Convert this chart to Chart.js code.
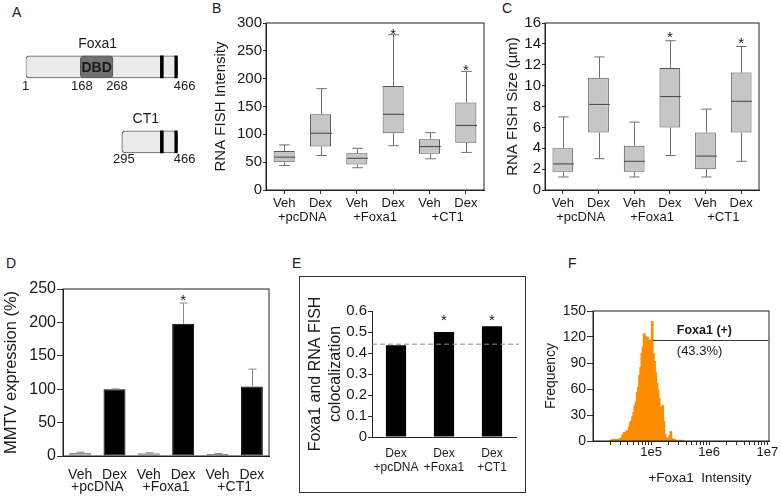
<!DOCTYPE html>
<html><head><meta charset="utf-8">
<script src="https://cdn.jsdelivr.net/npm/chart.js@4.4.1/dist/chart.umd.min.js"></script>
<style>
html,body{margin:0;padding:0;background:#fff;}
body{width:782px;height:503px;position:relative;overflow:hidden;font-family:"Liberation Sans",Arial,sans-serif;color:#1a1a1a;}
canvas{position:absolute;}
.lab{position:absolute;font-size:14px;line-height:14px;}
#frameE{position:absolute;left:299px;top:276px;width:227px;height:217px;box-sizing:border-box;border:1px solid #333;}
</style></head><body>
<div class="lab" style="left:12px;top:5px">A</div>
<div class="lab" style="left:212px;top:1px">B</div>
<div class="lab" style="left:502px;top:1px">C</div>
<div class="lab" style="left:6px;top:256px">D</div>
<div class="lab" style="left:292px;top:256px">E</div>
<div class="lab" style="left:568px;top:256px">F</div>
<div id="frameE"></div>
<canvas id="cA" width="195" height="220" style="left:0;top:0"></canvas>
<canvas id="cB" width="295" height="225" style="left:195px;top:0"></canvas>
<canvas id="cC" width="292" height="225" style="left:490px;top:0"></canvas>
<canvas id="cD" width="290" height="263" style="left:0;top:240px"></canvas>
<canvas id="cE" width="225" height="215" style="left:300px;top:277px"></canvas>
<canvas id="cF" width="252" height="223" style="left:530px;top:280px"></canvas>
<script>
// ---------------- DATA ----------------
// Panel A: protein constructs (amino-acid positions)
const aConstructs = ['Foxa1', 'CT1'];
const aStart = [1, 295];
const aEnd = [466, 466];
const aDbd = [[168, 268], null];
const aBand1 = [[413, 422], [413, 422]];
const aBand2 = [[457, 466], [457, 466]];
const aPosLabels = [[1, 168, 268, 466], [295, 466]];

// Panels B, C: box plots
const boxCats = ['Veh', 'Dex', 'Veh', 'Dex', 'Veh', 'Dex'];
const boxGroups = ['+pcDNA', '+Foxa1', '+CT1'];
const bMin = [44, 62, 40, 79.5, 56, 67.5];
const bQ1  = [50, 78, 46, 102, 65, 85];
const bMed = [59, 102, 57, 136, 78, 116];
const bQ3  = [70, 136, 66, 187, 91, 157];
const bMax = [81, 182, 75, 279, 103, 213];
const bStars = [3, 5];
const bTicks = {min: 0, max: 300, step: 50};

const cMin = [1.25, 3.0, 1.25, 3.3, 1.25, 2.75];
const cQ1  = [1.75, 5.5, 1.75, 6.0, 2.0, 5.5];
const cMed = [2.5, 8.2, 2.75, 8.95, 3.25, 8.5];
const cQ3  = [4.0, 10.75, 4.25, 11.7, 5.5, 11.25];
const cMax = [7.0, 12.75, 6.5, 14.3, 7.75, 13.75];
const cStars = [3, 5];
const cTicks = {min: 0, max: 16, step: 2};

// Panel D: MMTV expression
const dCats = ['Veh', 'Dex', 'Veh', 'Dex', 'Veh', 'Dex'];
const dGroups = ['+pcDNA', '+Foxa1', '+CT1'];
const dMean = [4.5, 100, 4, 198, 3, 104];
const dErr  = [1.2, 0.4, 0.8, 31, 0.8, 26];
const dStars = [3];

// Panel E: colocalization
const eCats = [['Dex', '+pcDNA'], ['Dex', '+Foxa1'], ['Dex', '+CT1']];
const eValues = [0.437, 0.50, 0.527];
const eRef = 0.442;
const eStars = [1, 2];
const eStarLevel = 0.535;

// Panel F: histogram (log10 bin centres, counts)
const fLogBins = [4.30,4.32,4.34,4.36,4.38,4.40,4.42,4.44,4.46,4.48,4.50,4.52,4.54,4.56,4.58,4.60,
  4.62,4.64,4.66,4.68,4.70,4.72,4.74,4.76,4.78,4.80,4.82,4.84,4.86,4.88,4.90,4.92,4.94,4.96,4.98,
  5.00,5.02,5.04,5.06,5.08,5.10,5.12,5.14,5.16,5.18,5.20,5.22,5.24,5.26,5.28,5.30,5.32,5.34,5.36,
  5.38,5.40,5.42,5.44,5.46,5.48,5.50,5.52,5.54,5.56];
const fFreq = [1,1,2,1,2,2,1,2,3,2,5,8,10,9,12,11,
  16,21,23,28,33,41,45,56,62,76,85,101,109,124,121,119,120,116,113,
  117,138,101,92,79,67,59,49,39,37,41,23,8,4,2,3,6,11,3,
  1,2,1,1,0,1,1,0,1,0];
const fGateX = [1.07e5, 1.04e7];
const fGateY = 116;
const fGateLabel = 'Foxa1 (+)';
const fGatePct = '(43.3%)';
const fTickValues = [2e4,3e4,4e4,5e4,6e4,7e4,8e4,9e4,1e5,2e5,3e5,4e5,5e5,6e5,7e5,8e5,9e5,
  1e6,2e6,3e6,4e6,5e6,6e6,7e6,8e6,9e6,1e7];
const fMajorLabels = {100000: '1e5', 1000000: '1e6', 10000000: '1e7'};

// ---------------- SETUP ----------------
const FONT = '"Liberation Sans", Arial, sans-serif';
const TXT = '#1a1a1a';
Chart.defaults.font.family = FONT;
Chart.defaults.color = TXT;
Chart.defaults.animation = false;
Chart.defaults.responsive = false;
Chart.defaults.plugins.legend.display = false;
Chart.defaults.plugins.tooltip.enabled = false;

const framePlugin = {id: 'frame', afterDraw(chart) {
  const {ctx, chartArea: a} = chart;
  ctx.save(); ctx.strokeStyle = '#222'; ctx.lineWidth = 1;
  ctx.strokeRect(a.left, a.top, a.right - a.left, a.bottom - a.top);
  ctx.restore();
}};

function groupLabels(groups, dy, size) {
  return {id: 'groups', afterDraw(chart) {
    const xs = chart.scales.x, ctx = chart.ctx;
    ctx.save(); ctx.font = size + 'px ' + FONT; ctx.fillStyle = TXT;
    ctx.textAlign = 'center'; ctx.textBaseline = 'middle';
    groups.forEach((g, i) => {
      const x = (xs.getPixelForValue(2 * i) + xs.getPixelForValue(2 * i + 1)) / 2;
      ctx.fillText(g, x, chart.chartArea.bottom + dy);
    });
    ctx.restore();
  }};
}

function stars(indices, levelFn, dy) {
  return {id: 'stars', afterDatasetsDraw(chart) {
    const xs = chart.scales.x, ys = chart.scales.y, ctx = chart.ctx;
    ctx.save(); ctx.font = '15px ' + FONT; ctx.fillStyle = TXT;
    ctx.textAlign = 'center'; ctx.textBaseline = 'alphabetic';
    indices.forEach(i => {
      ctx.fillText('*', xs.getPixelForValue(i), ys.getPixelForValue(levelFn(i)) + dy);
    });
    ctx.restore();
  }};
}

function whiskers(mins, meds, maxs, q1s, q3s) {
  return {id: 'whiskers', afterDatasetsDraw(chart) {
    const xs = chart.scales.x, ys = chart.scales.y, ctx = chart.ctx;
    const meta = chart.getDatasetMeta(0);
    ctx.save(); ctx.lineWidth = 1;
    mins.forEach((mn, i) => {
      const x = Math.round(xs.getPixelForValue(i)) + 0.5;
      const hw = meta.data[i].width / 2;
      const cap = hw * 0.5;
      const yMin = ys.getPixelForValue(mn), yMax = ys.getPixelForValue(maxs[i]);
      const yQ1 = ys.getPixelForValue(q1s[i]), yQ3 = ys.getPixelForValue(q3s[i]);
      const yMed = ys.getPixelForValue(meds[i]);
      ctx.strokeStyle = '#707070';
      ctx.beginPath();
      ctx.moveTo(x, yQ3); ctx.lineTo(x, yMax);
      ctx.moveTo(x - cap, yMax); ctx.lineTo(x + cap, yMax);
      ctx.moveTo(x, yQ1); ctx.lineTo(x, yMin);
      ctx.moveTo(x - cap, yMin); ctx.lineTo(x + cap, yMin);
      ctx.stroke();
      ctx.strokeStyle = '#444';
      ctx.beginPath();
      ctx.moveTo(x - hw, yMed); ctx.lineTo(x + hw, yMed);
      ctx.stroke();
    });
    ctx.restore();
  }};
}

// ---------------- PANEL A ----------------
(function () {
  const W = 195, H = 220;
  const labelsPlugin = {id: 'aLabels', afterDatasetsDraw(chart) {
    const xs = chart.scales.x, ctx = chart.ctx;
    const base = chart.getDatasetMeta(0);
    const nudges = [[0, 1.5, 4, 7], [2, 7]];
    ctx.save(); ctx.fillStyle = TXT; ctx.textAlign = 'center'; ctx.textBaseline = 'middle';
    aConstructs.forEach((name, i) => {
      const bar = base.data[i];
      const top = bar.y - bar.height / 2, bottom = bar.y + bar.height / 2;
      ctx.font = '14px ' + FONT;
      const cx = (xs.getPixelForValue(aStart[i]) + xs.getPixelForValue(aEnd[i])) / 2 - 4;
      ctx.fillText(name, cx, top - 12);
      ctx.font = '13px ' + FONT;
      aPosLabels[i].forEach((v, j) => {
        ctx.fillText(String(v), xs.getPixelForValue(v) + nudges[i][j], bottom + (i === 0 ? 8.5 : 7));
      });
      if (aDbd[i]) {
        ctx.font = 'bold 14px ' + FONT;
        ctx.fillText('DBD', (xs.getPixelForValue(aDbd[i][0]) + xs.getPixelForValue(aDbd[i][1])) / 2, bar.y + 1);
      }
    });
    ctx.restore();
  }};
  new Chart(document.getElementById('cA'), {
    type: 'bar',
    data: {labels: aConstructs, datasets: [
      {data: aConstructs.map((c, i) => [aStart[i], aEnd[i]]), backgroundColor: '#ebebeb', borderColor: '#5a5a5a',
       borderWidth: 1, borderSkipped: false, borderRadius: 4, order: 3},
      {data: aDbd, backgroundColor: '#707070', borderColor: '#5a5a5a', borderWidth: 1, borderSkipped: false, borderRadius: 4, order: 2},
      {data: aBand1, backgroundColor: '#000', borderWidth: 0, order: 1},
      {data: aBand2, backgroundColor: '#000', borderWidth: 0, order: 1}
    ]},
    options: {
      indexAxis: 'y',
      datasets: {bar: {grouped: false, barThickness: 22}},
      layout: {padding: {left: 25.7, right: W - 177.7, top: 29.3, bottom: H - 179.3}},
      scales: {x: {display: false, min: 1, max: 466}, y: {display: false}}
    },
    plugins: [labelsPlugin]
  });
})();

// ---------------- PANELS B, C ----------------
function boxChart(id, W, H, area, st, yCfg, yTitle, titlePad, starIdx, starDy) {
  new Chart(document.getElementById(id), {
    type: 'bar',
    data: {labels: boxCats, datasets: [{
      data: st.q1.map((v, i) => [v, st.q3[i]]),
      backgroundColor: '#c6c6c6', borderColor: '#555', borderWidth: 1, borderSkipped: false,
      barPercentage: 0.58, categoryPercentage: 1
    }]},
    options: {
      layout: {padding: {left: 0, top: area.top, right: W - area.right, bottom: 0}},
      scales: {
        x: {grid: {drawOnChartArea: false, offset: false, tickLength: 4, color: '#333'},
            border: {color: '#222'},
            ticks: {font: {size: 13}, padding: 2, autoSkip: false, maxRotation: 0},
            afterFit(s) { s.height = H - area.bottom; }},
        y: {min: yCfg.min, max: yCfg.max,
            ticks: {stepSize: yCfg.step, font: {size: 15}, padding: 1, autoSkip: false},
            grid: {drawOnChartArea: false, tickLength: 3, color: '#333'},
            border: {color: '#222'},
            title: {display: true, text: yTitle, font: {size: 15}, padding: {top: titlePad, bottom: 0}},
            afterFit(s) { s.width = area.left; }}
      }
    },
    plugins: [framePlugin, whiskers(st.min, st.med, st.max, st.q1, st.q3),
              groupLabels(boxGroups, 27, 13), stars(starIdx, i => st.max[i], starDy)]
  });
}
boxChart('cB', 295, 225, {left: 71, right: 289, top: 23, bottom: 190},
  {min: bMin, q1: bQ1, med: bMed, q3: bQ3, max: bMax}, bTicks, 'RNA FISH Intensity', 17, bStars, 4);
boxChart('cC', 292, 225, {left: 55, right: 269, top: 23, bottom: 190},
  {min: cMin, q1: cQ1, med: cMed, q3: cQ3, max: cMax}, cTicks, 'RNA FISH Size (\u00b5m)', 14, cStars, 1.5);

// ---------------- PANEL D ----------------
(function () {
  const W = 290, H = 263, area = {left: 63, right: 269, top: 49, bottom: 216};
  const errPlugin = {id: 'err', afterDatasetsDraw(chart) {
    const xs = chart.scales.x, ys = chart.scales.y, ctx = chart.ctx;
    ctx.save(); ctx.strokeStyle = '#8a8a8a'; ctx.lineWidth = 1;
    dMean.forEach((m, i) => {
      const x = Math.round(xs.getPixelForValue(i)) + 0.5;
      const y0 = ys.getPixelForValue(m), y1 = ys.getPixelForValue(m + dErr[i]);
      ctx.beginPath(); ctx.moveTo(x, y0); ctx.lineTo(x, y1);
      ctx.moveTo(x - 4, y1); ctx.lineTo(x + 4, y1); ctx.stroke();
    });
    ctx.restore();
  }};
  new Chart(document.getElementById('cD'), {
    type: 'bar',
    data: {labels: dCats, datasets: [{
      data: dMean,
      backgroundColor: dCats.map(c => c === 'Veh' ? '#ababab' : '#000'),
      borderColor: dCats.map(c => c === 'Veh' ? '#8c8c8c' : '#000'),
      borderWidth: 1, borderSkipped: false, barPercentage: 0.64, categoryPercentage: 1
    }]},
    options: {
      layout: {padding: {left: 0, top: area.top, right: W - area.right, bottom: 0}},
      scales: {
        x: {grid: {display: false, drawTicks: false}, border: {color: '#222'},
            ticks: {font: {size: 14}, padding: 10.6, autoSkip: false, maxRotation: 0},
            afterFit(s) { s.height = H - area.bottom; }},
        y: {min: 0, max: 250, ticks: {stepSize: 50, font: {size: 16}, padding: 1, autoSkip: false},
            grid: {drawOnChartArea: false, tickLength: 6, color: '#333'}, border: {color: '#222'},
            title: {display: true, text: 'MMTV expression (%)', font: {size: 16.5}, padding: {top: 2, bottom: 0}},
            afterFit(s) { s.width = area.left; }}
      }
    },
    plugins: [framePlugin, errPlugin, groupLabels(dGroups, 31.5, 14), stars(dStars, i => dMean[i] + dErr[i], 2)]
  });
})();

// ---------------- PANEL E ----------------
(function () {
  const W = 225, H = 215, area = {left: 72, right: 216, top: 34, bottom: 160};
  const refPlugin = {id: 'ref', afterDatasetsDraw(chart) {
    const ys = chart.scales.y, ctx = chart.ctx, a = chart.chartArea;
    const y = ys.getPixelForValue(eRef);
    ctx.save(); ctx.strokeStyle = '#8a8a8a'; ctx.lineWidth = 1; ctx.setLineDash([5, 3]);
    ctx.beginPath(); ctx.moveTo(a.left, y); ctx.lineTo(a.right + 3, y); ctx.stroke();
    ctx.restore();
  }};
  new Chart(document.getElementById('cE'), {
    type: 'bar',
    data: {labels: eCats, datasets: [{data: eValues, backgroundColor: '#000', barPercentage: 0.42, categoryPercentage: 1}]},
    options: {
      layout: {padding: {left: 0, top: area.top, right: W - area.right, bottom: 0}},
      scales: {
        x: {grid: {display: false, drawTicks: false}, border: {color: '#222'},
            ticks: {font: {size: 12, lineHeight: 1.15}, padding: 9.6, autoSkip: false, maxRotation: 0},
            afterFit(s) { s.height = H - area.bottom; }},
        y: {min: 0, max: 0.6,
            ticks: {stepSize: 0.1, font: {size: 15}, padding: 1, autoSkip: false, callback: v => v === 0 ? '0' : v.toFixed(1)},
            grid: {drawOnChartArea: false, tickLength: 4, color: '#333'}, border: {color: '#222'},
            title: {display: true, text: ['Foxa1 and RNA FISH', 'colocalization'],
                    font: {size: 16, lineHeight: 1.25}, padding: {top: 6, bottom: 0}},
            afterFit(s) { s.width = area.left; }}
      }
    },
    plugins: [refPlugin, stars(eStars, () => eStarLevel, 0)]
  });
})();

// ---------------- PANEL F ----------------
(function () {
  const W = 252, H = 223, area = {left: 63, right: 239, top: 31, bottom: 161};
  const textPlugin = {id: 'fText', afterDraw(chart) {
    const xs = chart.scales.x, ys = chart.scales.y, ctx = chart.ctx, a = chart.chartArea;
    const x0 = xs.getPixelForValue(fGateX[0]) + 24, y0 = ys.getPixelForValue(fGateY);
    ctx.save(); ctx.fillStyle = TXT; ctx.textAlign = 'left'; ctx.textBaseline = 'middle';
    ctx.font = 'bold 12.5px ' + FONT; ctx.fillText(fGateLabel, x0, y0 - 10);
    ctx.font = '13px ' + FONT; ctx.fillText(fGatePct, x0, y0 + 11);
    ctx.textAlign = 'center';
    ctx.font = '13.5px ' + FONT; ctx.fillText('+Foxa1  Intensity', (a.left + a.right) / 2 + 19, a.bottom + 37);
    ctx.restore();
  }};
  new Chart(document.getElementById('cF'), {
    type: 'bar',
    data: {datasets: [
      {type: 'line', data: fGateX.map(x => ({x: x, y: fGateY})), borderColor: '#333', borderWidth: 1,
       pointRadius: 0, order: 0},
      {type: 'bar', data: fLogBins.map((l, i) => ({x: Math.pow(10, l), y: fFreq[i]})),
       backgroundColor: 'rgb(255,140,0)', borderWidth: 0, barThickness: 2, order: 1}
    ]},
    options: {
      layout: {padding: {left: 0, top: area.top, right: W - area.right, bottom: 0}},
      scales: {
        x: {type: 'logarithmic', min: 1e4, max: 1.07e7, offset: false,
            grid: {drawOnChartArea: false, offset: false, tickLength: 4, color: '#333'}, border: {color: '#222'},
            afterBuildTicks(s) { s.ticks = fTickValues.map(v => ({value: v})); },
            ticks: {font: {size: 13}, padding: 0, autoSkip: false, maxRotation: 0,
                    callback: v => fMajorLabels[Math.round(v)] || ''},
            afterFit(s) { s.height = H - area.bottom; }},
        y: {min: 0, max: 150, ticks: {stepSize: 30, font: {size: 14}, padding: 1, autoSkip: false},
            grid: {drawOnChartArea: false, tickLength: 6, color: '#333'}, border: {color: '#222'},
            title: {display: true, text: 'Frequency', font: {size: 14}, padding: {top: 12.6, bottom: 0}},
            afterFit(s) { s.width = area.left; }}
      }
    },
    plugins: [framePlugin, textPlugin]
  });
})();
</script>
</body></html>
